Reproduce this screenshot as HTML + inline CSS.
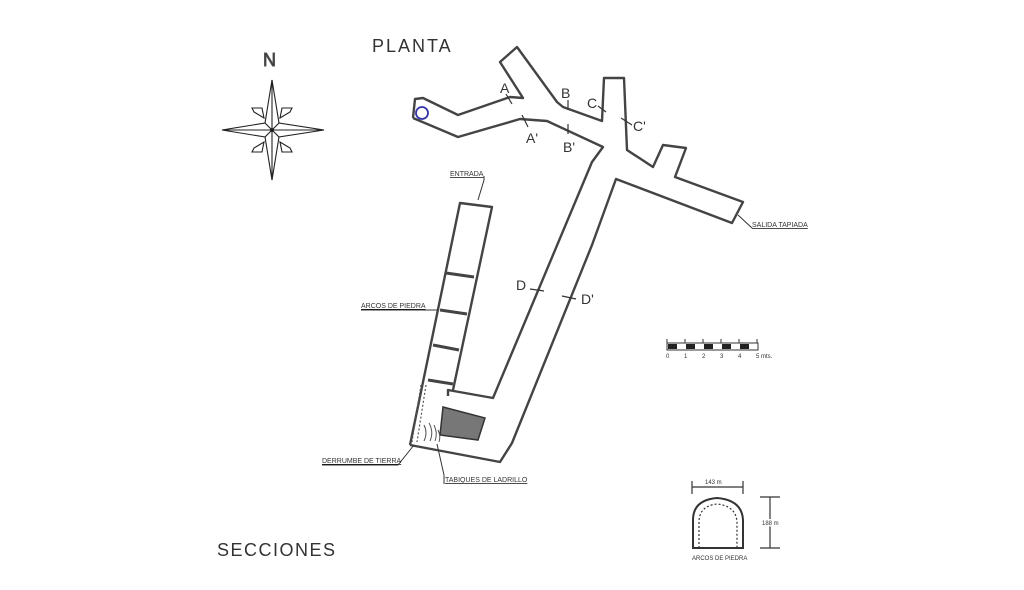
<!DOCTYPE html>
<html><head><meta charset="utf-8"><style>
html,body{margin:0;padding:0;background:#fff;}
svg{display:block}
text{font-family:"Liberation Sans",sans-serif;fill:#333}
</style></head><body>
<svg width="1024" height="590" viewBox="0 0 1024 590" xmlns="http://www.w3.org/2000/svg">
<rect width="1024" height="590" fill="#fff"/>
<g fill="none" stroke="#444" stroke-width="2.4" stroke-linejoin="round">
<!-- main tunnel outline -->
<polyline points="413,118 415,99 423,98 458,115 510,97 523,98 500,62 517,47 557,102 563,107 602,121 604,78 624,78 627,150 653,167 663,145 686,148 675,177 743,202 732,223 616,179 592,245 512,443 500,462 410,445"/>
<polyline points="413,118 458,137 520,119 547,121 603,147 592,162 493,398 448,390 448,396"/>
<!-- entrance corridor -->
<polyline points="410,445 460,203 492,207 453,390"/>
</g>
<g stroke="#444" stroke-width="3" fill="none">
<line x1="446" y1="273" x2="474" y2="277"/>
<line x1="440" y1="310" x2="467" y2="314"/>
<line x1="433" y1="345" x2="459" y2="350"/>
<line x1="428" y1="380" x2="453" y2="384"/>
</g>
<g stroke="#555" stroke-width="1.2" stroke-dasharray="2 2">
<line x1="421" y1="385" x2="412" y2="442"/>
<line x1="426" y1="385" x2="417" y2="442"/>
</g>
<polygon points="443,407 485,418 478,440 440,435" fill="#777" stroke="#333" stroke-width="1.5"/>
<g stroke="#555" stroke-width="1" fill="none">
<path d="M424,425 q4,8 0,16 M429,423 q5,9 1,18 M434,425 q4,8 1,16 M438,430 q3,6 1,12"/>
</g>
<circle cx="422" cy="113" r="6" fill="none" stroke="#33a" stroke-width="1.8"/>
<!-- section ticks -->
<g stroke="#333" stroke-width="1.2">
<line x1="506" y1="94" x2="512" y2="104"/>
<line x1="522" y1="115" x2="528" y2="127"/>
<line x1="568" y1="100" x2="568" y2="110"/>
<line x1="568" y1="124" x2="568" y2="134"/>
<line x1="598" y1="106" x2="606" y2="112"/>
<line x1="621" y1="118" x2="632" y2="125"/>
<line x1="530" y1="289" x2="544" y2="291"/>
<line x1="562" y1="296" x2="576" y2="299"/>
</g>
<g font-size="14">
<text x="500" y="93">A</text><text x="526" y="143">A'</text>
<text x="561" y="98">B</text><text x="563" y="152">B'</text>
<text x="587" y="108">C</text><text x="633" y="131">C'</text>
<text x="516" y="290">D</text><text x="581" y="304">D'</text>
</g>
<text x="372" y="52" font-size="18" letter-spacing="2">PLANTA</text>
<text x="217" y="556" font-size="18" letter-spacing="1.5">SECCIONES</text>
<g font-size="7" text-decoration="underline">
<text x="450" y="176">ENTRADA</text>
<text x="361" y="308">ARCOS DE PIEDRA</text>
<text x="322" y="463">DERRUMBE DE TIERRA</text>
<text x="445" y="482">TABIQUES DE LADRILLO</text>
<text x="752" y="227">SALIDA TAPIADA</text>
</g>
<g stroke="#333" stroke-width="1" fill="none">
<polyline points="484,176 484,180 478,200"/>
<line x1="361" y1="310" x2="438" y2="310"/>
<polyline points="322,465 398,465 414,445"/>
<polyline points="437,444 444,475 444,484"/>
<line x1="738" y1="215" x2="752" y2="228"/>
</g>
<!-- compass -->
<text x="263" y="66" font-size="18" fill="none" stroke="#555" stroke-width="0.9">N</text>
<g fill="#fff" stroke="#222" stroke-width="1.1">
<polygon points="254,112 252,108 262,108 264,118"/>
<polygon points="290,112 292,108 282,108 280,118"/>
<polygon points="254,148 252,152 262,152 264,142"/>
<polygon points="290,148 292,152 282,152 280,142"/>
<polygon points="272,80 279,123 324,130 279,137 272,180 265,137 222,130 265,123"/>
<path d="M272,80V180M222,130H324M265,123L279,137M279,123L265,137"/>
</g>
<circle cx="272" cy="130" r="2" fill="#222"/>
<!-- scale bar -->
<rect x="667" y="343" width="91" height="7" fill="#fff" stroke="#333"/>
<g fill="#222"><rect x="668" y="344" width="9" height="5"/><rect x="686" y="344" width="9" height="5"/><rect x="704" y="344" width="9" height="5"/><rect x="722" y="344" width="9" height="5"/><rect x="740" y="344" width="9" height="5"/></g>
<g stroke="#333"><line x1="667" y1="339" x2="667" y2="343"/><line x1="685" y1="339" x2="685" y2="343"/><line x1="703" y1="339" x2="703" y2="343"/><line x1="721" y1="339" x2="721" y2="343"/><line x1="739" y1="339" x2="739" y2="343"/><line x1="757" y1="339" x2="757" y2="343"/></g>
<g font-size="6"><text x="666" y="358">0</text><text x="684" y="358">1</text><text x="702" y="358">2</text><text x="720" y="358">3</text><text x="738" y="358">4</text><text x="756" y="358">5 mts.</text></g>
<!-- section -->
<g stroke="#333" stroke-width="1.2" fill="none">
<path d="M692,487H743M692,481V494M743,481V494"/>
<path d="M760,497H780M770,497V548M760,548H780"/>
<path d="M693,548V520Q693,500 717,498Q742,500 743,520V548Z" stroke-width="2"/>
<path d="M699,548V522Q699,506 717,504Q736,506 737,522V548" stroke-dasharray="2 2"/>
</g>
<text x="705" y="484" font-size="6">143 m</text>
<text x="762" y="525" font-size="6" style="paint-order:stroke" stroke="#fff" stroke-width="3">188 m</text>
<text x="692" y="560" font-size="6">ARCOS DE PIEDRA</text>
</svg>
</body></html>
